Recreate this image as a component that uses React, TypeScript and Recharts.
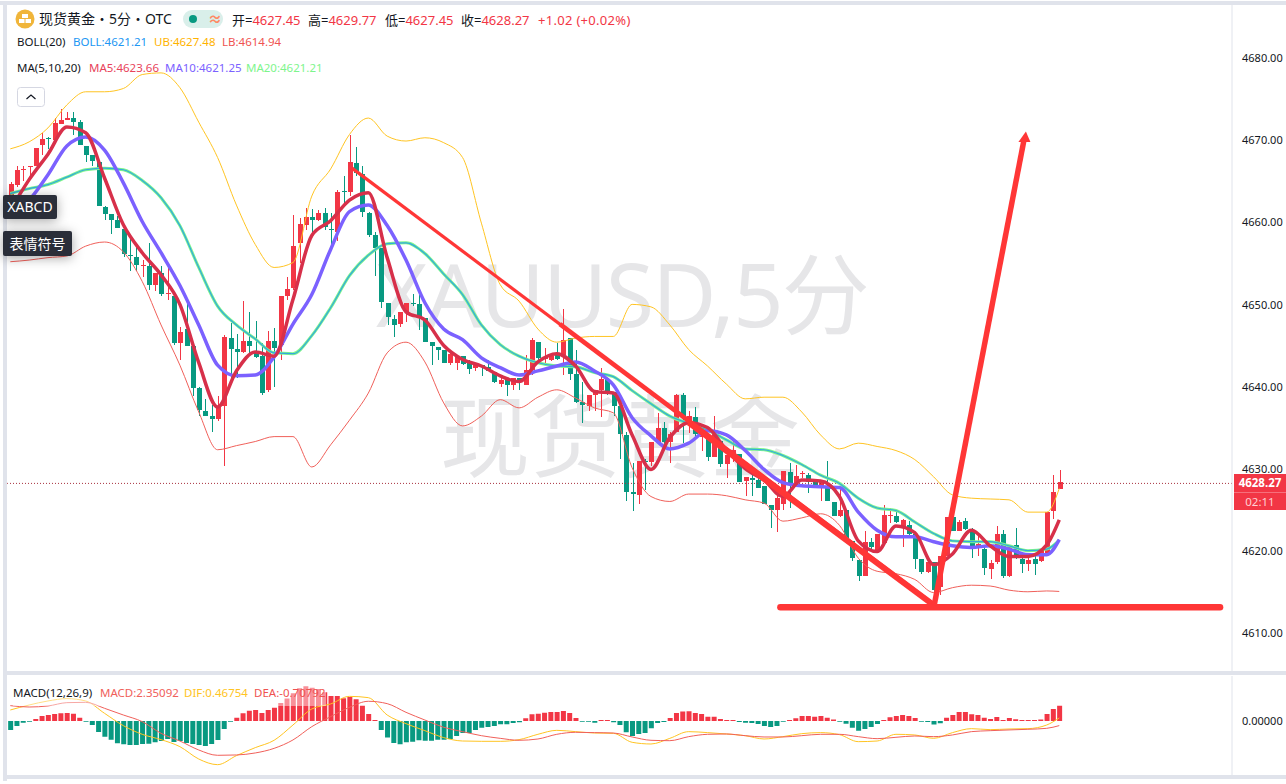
import React from 'react';
import { ComposedChart, Bar, Line, XAxis, YAxis, Cell, ReferenceLine, ReferenceDot } from 'recharts';

const FONT = '"Noto Sans", "Noto Sans CJK SC", sans-serif';
const UP = '#F23645';
const DOWN = '#089981';
const DRAW = '#FF3636';

// candles
const opens = [
  4663.05, 4664.47, 4666.33, 4666.58, 4666.78, 4669.34, 4670.19, 4669.87, 4671.90, 4672.38, 4672.63, 4672.06,
  4669.22, 4668.12, 4667.27, 4661.79, 4660.93, 4660.20, 4659.07, 4655.94, 4655.70, 4654.68, 4654.64, 4652.29,
  4653.75, 4651.27, 4650.95, 4645.26, 4646.93, 4644.86, 4639.74, 4636.94, 4636.33, 4635.97, 4637.47, 4645.83,
  4644.49, 4644.05, 4645.43, 4644.09, 4643.56, 4639.50, 4645.43, 4644.90, 4650.95, 4651.96, 4657.33, 4659.60,
  4660.53, 4660.21, 4661.02, 4659.07, 4658.71, 4663.70, 4663.54, 4667.15, 4665.81, 4661.02, 4658.38, 4656.76,
  4650.10, 4648.11, 4647.46, 4648.92, 4650.06, 4649.98, 4648.23, 4645.31, 4644.70, 4644.29, 4642.71, 4642.71,
  4643.56, 4642.75, 4642.10, 4642.55, 4642.26, 4641.61, 4640.23, 4640.72, 4640.11, 4640.92, 4640.11, 4641.86,
  4645.35, 4643.28, 4643.16, 4643.97, 4643.76, 4645.87, 4641.45, 4638.04, 4637.55, 4638.89, 4639.50, 4640.84,
  4639.29, 4637.55, 4634.02, 4627.07, 4626.71, 4630.85, 4630.65, 4633.16, 4634.87, 4633.16, 4634.42, 4638.89,
  4635.36, 4636.17, 4633.81, 4634.02, 4631.34, 4633.29, 4630.44, 4631.58, 4631.66, 4628.41, 4628.74, 4628.54,
  4627.73, 4625.49, 4624.89, 4625.62, 4629.47, 4628.13, 4629.27, 4629.15, 4628.34, 4627.73, 4627.73, 4625.86,
  4624.07, 4624.89, 4621.11, 4618.80, 4616.85, 4620.99, 4620.01, 4620.83, 4624.16, 4624.16, 4622.86, 4623.06,
  4621.88, 4618.88, 4617.25, 4618.51, 4615.43, 4619.20, 4623.99, 4622.25, 4623.55, 4622.25, 4620.42, 4620.10,
  4617.66, 4618.47, 4621.96, 4616.77, 4620.54, 4618.88, 4618.23, 4618.88, 4618.59, 4619.40, 4624.68, 4627.45,
];
const closes = [
  4664.59, 4666.29, 4666.42, 4666.78, 4668.97, 4670.07, 4669.99, 4671.98, 4672.38, 4672.59, 4672.14, 4669.26,
  4668.04, 4667.39, 4661.83, 4660.93, 4660.20, 4659.23, 4656.06, 4655.78, 4654.72, 4654.76, 4652.29, 4653.75,
  4651.19, 4651.35, 4645.26, 4646.56, 4644.86, 4639.66, 4636.98, 4636.33, 4635.97, 4637.47, 4645.91, 4644.53,
  4644.05, 4645.43, 4644.78, 4643.52, 4639.17, 4645.43, 4644.61, 4650.95, 4651.76, 4657.04, 4659.72, 4660.53,
  4660.13, 4661.02, 4659.27, 4658.91, 4663.62, 4663.54, 4667.27, 4665.89, 4661.10, 4658.38, 4656.80, 4650.14,
  4648.31, 4647.34, 4648.92, 4650.10, 4649.98, 4648.31, 4645.27, 4644.78, 4644.29, 4642.71, 4643.89, 4643.56,
  4642.59, 4641.98, 4642.59, 4642.26, 4641.78, 4640.40, 4640.72, 4640.11, 4640.92, 4640.72, 4641.94, 4645.59,
  4643.32, 4643.36, 4643.56, 4643.24, 4645.51, 4641.45, 4637.96, 4637.63, 4638.89, 4639.50, 4640.84, 4639.21,
  4637.47, 4634.14, 4627.11, 4626.75, 4630.81, 4630.73, 4633.16, 4634.87, 4633.16, 4634.14, 4638.89, 4636.25,
  4636.33, 4634.06, 4634.63, 4631.26, 4634.22, 4630.44, 4631.58, 4632.19, 4628.33, 4628.94, 4628.54, 4627.56,
  4625.62, 4624.89, 4626.31, 4629.64, 4628.13, 4629.03, 4629.35, 4628.26, 4627.85, 4628.34, 4625.98, 4624.16,
  4624.89, 4621.23, 4618.96, 4616.77, 4620.95, 4620.30, 4621.96, 4624.28, 4624.24, 4623.34, 4623.59, 4621.96,
  4618.88, 4617.25, 4618.55, 4615.06, 4619.28, 4623.99, 4622.25, 4623.38, 4622.57, 4620.34, 4620.70, 4617.74,
  4618.39, 4621.96, 4616.85, 4620.34, 4619.00, 4618.23, 4618.71, 4618.31, 4620.01, 4624.60, 4627.08, 4628.27,
];
const highs = [
  4664.87, 4666.82, 4666.70, 4666.78, 4668.97, 4670.76, 4670.35, 4672.59, 4673.68, 4673.36, 4673.36, 4672.38,
  4669.22, 4668.12, 4667.27, 4661.91, 4660.93, 4660.61, 4659.07, 4658.17, 4656.96, 4655.33, 4657.44, 4653.75,
  4654.60, 4654.93, 4651.27, 4647.21, 4649.97, 4644.86, 4639.90, 4638.40, 4637.67, 4638.77, 4646.20, 4647.62,
  4646.32, 4650.26, 4648.96, 4647.82, 4645.18, 4646.72, 4647.01, 4650.95, 4653.30, 4660.81, 4660.41, 4661.63,
  4661.51, 4661.43, 4661.63, 4661.02, 4663.78, 4665.57, 4670.56, 4669.06, 4666.79, 4661.10, 4658.67, 4656.76,
  4650.10, 4648.64, 4648.92, 4650.10, 4651.19, 4651.07, 4648.23, 4645.31, 4644.70, 4644.29, 4643.97, 4643.56,
  4643.56, 4643.07, 4642.75, 4642.55, 4643.16, 4641.61, 4641.21, 4640.72, 4640.92, 4640.92, 4643.77, 4645.79,
  4645.35, 4644.58, 4643.77, 4645.19, 4649.36, 4645.87, 4644.37, 4640.51, 4638.89, 4639.50, 4642.14, 4640.84,
  4639.29, 4637.55, 4634.42, 4630.57, 4630.81, 4631.05, 4633.16, 4636.66, 4635.60, 4634.42, 4638.97, 4639.09,
  4636.86, 4637.39, 4634.83, 4634.02, 4636.33, 4633.29, 4631.58, 4633.61, 4631.66, 4628.94, 4630.16, 4629.55,
  4627.73, 4625.49, 4627.73, 4629.64, 4630.57, 4630.37, 4629.55, 4629.35, 4628.54, 4628.54, 4630.85, 4625.86,
  4627.52, 4624.89, 4621.11, 4618.80, 4622.25, 4621.43, 4621.96, 4625.49, 4625.09, 4624.89, 4623.75, 4623.46,
  4621.88, 4618.88, 4618.55, 4618.51, 4619.28, 4623.99, 4624.20, 4623.67, 4623.87, 4622.65, 4622.04, 4620.62,
  4618.80, 4622.94, 4622.45, 4620.34, 4622.65, 4619.40, 4619.00, 4619.40, 4620.01, 4624.60, 4629.15, 4629.77,
];
const lows = [
  4662.84, 4664.26, 4664.95, 4665.68, 4666.70, 4668.12, 4668.81, 4669.74, 4671.90, 4672.38, 4670.56, 4669.26,
  4667.19, 4666.70, 4661.83, 4660.20, 4658.50, 4659.23, 4655.62, 4654.03, 4654.03, 4653.30, 4651.68, 4651.56,
  4650.95, 4650.46, 4644.98, 4643.07, 4644.86, 4638.69, 4636.33, 4636.25, 4634.42, 4635.76, 4630.16, 4640.92,
  4640.92, 4643.96, 4643.56, 4643.35, 4638.89, 4639.29, 4639.82, 4643.07, 4650.46, 4651.60, 4654.93, 4659.00,
  4658.38, 4660.00, 4658.91, 4657.16, 4657.57, 4662.03, 4663.05, 4665.49, 4660.49, 4658.10, 4653.39, 4649.45,
  4647.34, 4645.88, 4647.09, 4647.70, 4649.65, 4646.81, 4645.27, 4642.55, 4643.16, 4642.71, 4642.47, 4641.86,
  4642.51, 4641.41, 4641.82, 4641.13, 4641.78, 4640.31, 4639.79, 4638.77, 4639.50, 4639.42, 4640.11, 4641.33,
  4642.95, 4642.75, 4642.95, 4643.16, 4641.32, 4640.72, 4637.87, 4635.44, 4636.94, 4636.94, 4636.17, 4638.89,
  4636.25, 4631.13, 4625.98, 4624.68, 4625.61, 4627.24, 4630.16, 4633.16, 4632.76, 4630.57, 4634.42, 4633.00,
  4634.22, 4633.81, 4631.99, 4630.77, 4631.34, 4630.04, 4628.74, 4630.65, 4628.21, 4626.51, 4626.51, 4627.52,
  4625.62, 4622.65, 4622.13, 4624.89, 4625.09, 4627.73, 4628.74, 4626.92, 4627.52, 4625.98, 4625.90, 4624.07,
  4623.99, 4621.23, 4618.59, 4616.16, 4616.77, 4620.01, 4619.93, 4620.62, 4623.26, 4623.26, 4620.30, 4621.72,
  4617.66, 4617.09, 4617.17, 4613.52, 4614.53, 4619.20, 4622.25, 4622.25, 4622.45, 4619.00, 4619.28, 4616.89,
  4616.48, 4618.27, 4616.56, 4616.73, 4618.88, 4617.17, 4617.37, 4616.89, 4618.51, 4619.28, 4623.75, 4627.45,
];

// indicator lines are read at these candles
const lineIdx = [
  0, 3, 6, 9, 12, 15, 18, 21, 24, 27, 30, 33, 36, 39, 42, 45, 48, 51, 54, 57, 60, 63, 66, 69, 72, 75, 78, 81, 84,
  87, 90, 93, 96, 99, 102, 105, 108, 111, 114, 117, 120, 123, 126, 129, 132, 135, 138, 141, 144, 147, 150, 153,
  156, 159, 162, 165, 167,
];
const ub = [
  4668.85, 4669.7, 4671.4, 4674.2, 4675.8, 4675.8, 4676.2, 4677.9, 4678.1, 4676.3, 4672.1, 4667.8, 4662.0, 4657.2,
  4654.4, 4655.0, 4663.1, 4666.4, 4670.6, 4672.6, 4670.4, 4669.8, 4670.2, 4669.6, 4667.8, 4659.8, 4652.3, 4650.3,
  4646.9, 4645.3, 4645.8, 4646.0, 4646.0, 4649.9, 4649.6, 4647.4, 4644.4, 4642.4, 4640.2, 4638.4, 4638.6, 4638.6,
  4636.8, 4634.0, 4632.3, 4633.0, 4632.6, 4632.1, 4631.0, 4628.9, 4626.7, 4626.3, 4626.2, 4626.1, 4624.6, 4624.6,
  4627.48,
];
const lb = [
  4655.1, 4655.3, 4655.6, 4655.8, 4657.0, 4657.5, 4656.3, 4652.7, 4647.4, 4642.5, 4636.8, 4632.2, 4632.7, 4633.2,
  4633.8, 4633.8, 4630.1, 4632.8, 4635.8, 4639.1, 4644.0, 4645.3, 4642.9, 4637.9, 4635.1, 4636.3, 4638.3, 4637.3,
  4638.6, 4639.5, 4638.5, 4637.3, 4636.7, 4630.0, 4626.5, 4625.9, 4626.8, 4626.8, 4626.6, 4626.1, 4625.7, 4623.5,
  4623.9, 4624.4, 4623.0, 4619.0, 4617.4, 4617.1, 4616.4, 4614.8, 4615.4, 4615.7, 4615.6, 4615.1, 4614.9, 4615.0,
  4614.94,
];
const ma5 = [
  4661.4, 4665.1, 4668.2, 4671.5, 4670.8, 4665.3, 4659.6, 4656.2, 4653.5, 4649.9, 4642.8, 4637.4, 4641.8, 4644.1,
  4643.6, 4650.5, 4658.3, 4660.1, 4662.6, 4663.5, 4655.6, 4649.0, 4648.0, 4644.9, 4643.2, 4642.4, 4641.2, 4640.5,
  4642.9, 4643.9, 4642.4, 4639.3, 4639.1, 4634.0, 4629.8, 4633.7, 4635.5, 4634.9, 4632.2, 4629.9, 4628.5, 4626.5,
  4628.5, 4628.4, 4626.5, 4621.1, 4619.8, 4622.9, 4622.1, 4618.2, 4619.5, 4622.4, 4620.5, 4619.2, 4619.2, 4620.6,
  4623.66,
];
const ma10 = [
  4660.8, 4662.6, 4665.7, 4669.2, 4670.3, 4668.7, 4664.7, 4660.0, 4656.2, 4652.2, 4647.4, 4642.5, 4641.2, 4641.3,
  4643.5, 4647.5, 4651.1, 4656.6, 4661.2, 4662.0, 4659.5, 4655.3, 4650.1, 4646.9, 4645.6, 4643.4, 4642.2, 4641.3,
  4641.8, 4642.4, 4642.9, 4641.8, 4640.1, 4636.1, 4633.9, 4632.3, 4633.0, 4634.5, 4634.0, 4632.1, 4629.8, 4628.2,
  4627.8, 4627.7, 4627.6, 4624.6, 4622.4, 4621.6, 4621.6, 4621.0, 4620.5, 4620.3, 4620.5, 4620.1, 4619.4, 4619.4,
  4621.25,
];
const ma20 = [
  4663.4, 4664.0, 4664.5, 4665.4, 4666.3, 4666.5, 4666.3, 4665.0, 4662.9, 4659.5, 4654.4, 4649.7, 4647.4, 4645.7,
  4644.0, 4643.9, 4646.1, 4649.5, 4653.4, 4655.9, 4657.3, 4657.4, 4656.1, 4653.6, 4651.1, 4647.4, 4645.0, 4643.6,
  4642.8, 4642.4, 4642.3, 4641.6, 4641.1, 4639.4, 4637.8, 4636.3, 4635.4, 4634.6, 4633.4, 4632.3, 4632.2, 4631.5,
  4630.4, 4629.1, 4628.1, 4626.3, 4625.1, 4624.8, 4623.4, 4622.0, 4621.1, 4621.0, 4621.0, 4620.5, 4619.9, 4620.1,
  4621.21,
];

const macdHist = [
  -1.38, -0.77, -0.26, -0.1, 0.31, 0.77, 0.92, 1.08, 1.18, 1.23, 1.13, 0.51, -0.1, -0.62, -1.69, -2.41, -2.87, -3.44,
  -3.59, -3.69, -3.69, -3.54, -3.49, -3.28, -3.08, -2.77, -3.23, -3.08, -3.38, -3.54, -3.69, -3.85, -3.54, -2.92,
  -1.23, -0.1, 0.51, 1.18, 1.59, 1.69, 1.23, 1.69, 2.05, 2.77, 3.44, 4.26, 5.03, 5.33, 5.13, 4.92, 4.41, 3.85, 3.85,
  3.49, 3.69, 3.33, 2.36, 1.08, 0.15, -1.38, -2.56, -3.38, -3.59, -3.28, -3.18, -2.97, -3.03, -3.03, -2.87, -2.87,
  -2.77, -2.31, -1.85, -1.85, -1.38, -1.03, -0.92, -0.77, -0.51, -0.51, -0.31, -0.21, 0.41, 1.03, 1.13, 1.28, 1.38,
  1.38, 1.54, 1.23, 0.46, -0.1, -0.1, -0.26, 0.15, 0.15, -0.21, -0.62, -1.74, -2.31, -2.0, -1.85, -1.13, -0.31, -0.15,
  0.46, 1.23, 1.44, 1.49, 1.23, 1.08, 0.67, 0.67, 0.31, 0.15, 0.15, -0.15, -0.26, -0.31, -0.46, -0.77, -0.92, -0.77,
  -0.1, 0.15, 0.41, 0.77, 0.77, 0.67, 0.77, 0.51, 0.21, -0.1, -0.41, -1.03, -1.49, -1.23, -0.92, -0.46, 0.15, 0.56,
  0.77, 0.92, 0.77, 0.46, -0.1, -0.15, -0.56, -0.36, 0.51, 0.92, 1.38, 1.38, 1.03, 0.92, 0.51, 0.31, 0.62, 0.15, 0.46,
  0.26, 0.15, 0.15, 0.15, 0.21, 1.08, 1.85, 2.35,
];
const dif = [
  1.69, 2.46, 3.08, 3.44, 3.08, 1.18, -0.72, -2.05, -2.87, -3.95, -5.85, -6.72, -5.33, -4.1, -2.97, -0.62, 1.85, 2.62,
  3.79, 3.59, 0.92, -0.41, -1.49, -2.56, -3.08, -3.13, -3.13, -2.87, -2.05, -1.44, -1.64, -1.85, -1.9, -3.28, -3.54,
  -2.67, -1.64, -1.79, -2.0, -2.26, -2.77, -2.41, -1.95, -1.79, -2.1, -3.18, -3.08, -2.05, -2.15, -2.67, -1.79, -1.18,
  -1.33, -1.23, -1.18, -0.62, 0.47,
];
const dea = [
  2.36, 2.15, 2.31, 2.82, 2.87, 1.95, 0.92, -0.1, -1.9, -3.08, -4.46, -5.28, -5.23, -4.92, -4.21, -2.92, -0.87, 0.67,
  2.1, 3.03, 2.67, 1.33, 0.15, -0.97, -1.64, -2.26, -2.67, -2.97, -2.77, -2.05, -1.74, -1.79, -1.85, -2.46, -2.97,
  -3.03, -2.41, -2.05, -2.0, -2.26, -2.46, -2.46, -2.26, -2.05, -2.05, -2.41, -2.72, -2.51, -2.31, -2.41, -2.15, -1.64,
  -1.49, -1.38, -1.28, -1.13, -0.71,
];

const priceTicks = [4610, 4620, 4630, 4640, 4650, 4660, 4670, 4680];

// hand drawn lines on the chart, [candle, price] pairs
const trendThin = [[54.4, 4666.5], [147.2, 4613.2]];
const trendMid = [[87.5, 4647.5], [147.2, 4613.2]];
const trendHeavy = [[108, 4635.5], [146.8, 4613.4]];
const floorLine = [[122.6, 4613.0], [192.6, 4613.0]];
const arrowLine = [[147.1, 4613.3], [161.4, 4670]];
const arrowTip = [161.45, 4670.3];

const rows = opens.map((open, i) => {
  const row: any = { i, open, close: closes[i], high: highs[i], low: lows[i], macd: macdHist[i] };
  const k = lineIdx.indexOf(i);
  if (k >= 0) {
    row.ub = ub[k];
    row.lb = lb[k];
    row.ma5 = ma5[k];
    row.ma10 = ma10[k];
    row.ma20 = ma20[k];
    row.dif = dif[k];
    row.dea = dea[k];
  }
  return row;
});

const Candle = (props: any) => {
  const { x, y, width, height, payload } = props;
  const { open, close, high, low } = payload;
  const k = height / (high - low || 1);
  const cx = Math.round(x + width / 2);
  const top = y + (high - Math.max(open, close)) * k;
  const bodyH = Math.max(Math.abs(open - close) * k, 1);
  const color = close >= open ? UP : DOWN;
  return (
    <g shapeRendering="crispEdges">
      <rect x={cx} y={y} width={1} height={height} fill={color} />
      <rect x={cx - 2} y={top} width={5} height={bodyH} fill={color} />
    </g>
  );
};

const ArrowHead = ({ cx, cy }: any) => (
  <polygon points={`${cx + 1.5},${cy - 5.5} ${cx - 6},${cy + 5} ${cx + 6},${cy + 5}`} fill={DRAW} />
);

const seg = (pts: number[][]) => pts.map(([x, y]) => ({ x, y })) as any;
const fmt = (v: number) => v.toFixed(2);

const Txt = ({ x, y, c = '#131722', s = 11.5, children, style }: any) => (
  <div style={{ position: 'absolute', left: x, top: y, color: c, fontSize: s, lineHeight: '16px', whiteSpace: 'nowrap', ...style }}>
    {children}
  </div>
);

const band: React.CSSProperties = { position: 'absolute', background: '#E0E3EB' };

export default function App() {
  return (
    <div style={{ position: 'absolute', left: 0, top: 0, width: 1286, height: 784, overflow: 'hidden', background: '#fff', fontFamily: FONT }}>
      {/* watermark */}
      <div style={{ position: 'absolute', left: 376, top: 238, fontSize: 88, letterSpacing: -1.7, lineHeight: '110px', color: '#E6E6E8', whiteSpace: 'nowrap' }}>XAUUSD,5分</div>
      <div style={{ position: 'absolute', left: 440, top: 380, fontSize: 90, lineHeight: '110px', color: '#E6E6E8', whiteSpace: 'nowrap' }}>现货黄金</div>

      <div style={{ position: 'absolute', left: 0, top: 5 }}>
        <ComposedChart width={1286} height={666} data={rows} margin={{ top: 0, right: 0, bottom: 0, left: 7.16 }}>
          <XAxis dataKey="i" type="number" domain={[-0.5, 194.5]} hide allowDataOverflow />
          <YAxis
            orientation="right"
            width={54}
            domain={[4605.25, 4686.37]}
            allowDataOverflow
            ticks={priceTicks}
            tickFormatter={fmt}
            tickLine={false}
            axisLine={{ stroke: '#E0E3EB' }}
            tick={{ fill: '#131722', fontSize: 11, dx: 2, dy: 1 }}
          />
          <ReferenceLine y={4628.1} stroke="#A8323F" strokeDasharray="1 2" />
          <Bar dataKey={(d: any) => [d.low, d.high]} barSize={5} shape={<Candle />} isAnimationActive={false} />
          <Line dataKey="ub" type="monotone" stroke="#FFC423" strokeWidth={1} dot={false} connectNulls isAnimationActive={false} />
          <Line dataKey="lb" type="monotone" stroke="#F0605A" strokeWidth={1} dot={false} connectNulls isAnimationActive={false} />
          <Line dataKey="ma20" type="monotone" stroke="#7EF58C" strokeWidth={3} dot={false} connectNulls isAnimationActive={false} />
          <Line dataKey="ma20" type="monotone" stroke="#2196F3" strokeWidth={1.2} strokeOpacity={0.8} dot={false} connectNulls isAnimationActive={false} />
          <Line dataKey="ma10" type="monotone" stroke="#7B61FF" strokeWidth={3.5} dot={false} connectNulls isAnimationActive={false} />
          <Line dataKey="ma5" type="monotone" stroke="#D7304A" strokeWidth={3.5} dot={false} connectNulls isAnimationActive={false} />
          <ReferenceLine segment={seg(trendThin)} stroke={DRAW} strokeWidth={3.2} />
          <ReferenceLine segment={seg(trendMid)} stroke={DRAW} strokeWidth={4.6} />
          <ReferenceLine segment={seg(trendHeavy)} stroke={DRAW} strokeWidth={6} />
          <ReferenceLine segment={seg(floorLine)} stroke={DRAW} strokeWidth={6.5} strokeLinecap="round" />
          <ReferenceLine segment={seg(arrowLine)} stroke={DRAW} strokeWidth={5.5} />
          <ReferenceDot x={arrowTip[0]} y={arrowTip[1]} shape={<ArrowHead />} />
        </ComposedChart>
      </div>

      <div style={{ position: 'absolute', left: 0, top: 676 }}>
        <ComposedChart width={1286} height={99} data={rows} margin={{ top: 0, right: 0, bottom: 0, left: 7.16 }}>
          <XAxis dataKey="i" type="number" domain={[-0.5, 194.5]} hide allowDataOverflow />
          <YAxis
            orientation="right"
            width={54}
            domain={[-8.31, 6.92]}
            allowDataOverflow
            ticks={[0]}
            tickFormatter={(v: number) => v.toFixed(5)}
            tickLine={false}
            axisLine={{ stroke: '#E0E3EB' }}
            tick={{ fill: '#131722', fontSize: 11, dx: 2 }}
          />
          <Bar dataKey="macd" barSize={5} isAnimationActive={false}>
            {rows.map((r) => (
              <Cell key={r.i} fill={r.macd >= 0 ? UP : DOWN} />
            ))}
          </Bar>
          <Line dataKey="dif" type="monotone" stroke="#FFC423" strokeWidth={1} dot={false} connectNulls isAnimationActive={false} />
          <Line dataKey="dea" type="monotone" stroke="#F0605A" strokeWidth={1} dot={false} connectNulls isAnimationActive={false} />
        </ComposedChart>
      </div>

      {/* pane separators */}
      <div style={{ ...band, left: 0, top: 1, width: 1286, height: 4 }} />
      <div style={{ ...band, left: 3, top: 1, width: 4, height: 780 }} />
      <div style={{ ...band, left: 3, top: 671, width: 1283, height: 4 }} />
      <div style={{ ...band, left: 3, top: 775, width: 1283, height: 4 }} />

      {/* header */}
      <svg style={{ position: 'absolute', left: 15, top: 9 }} width={20} height={20}>
        <circle cx={10} cy={10} r={9.5} fill="#F0B53A" />
        <rect x={7} y={5} width={6} height={4} fill="#fff" />
        <rect x={4} y={10} width={5.5} height={4} fill="#fff" />
        <rect x={10.5} y={10} width={5.5} height={4} fill="#fff" />
      </svg>
      <Txt x={39} y={11} s={14}>现货黄金・5分・OTC</Txt>
      <div style={{ position: 'absolute', left: 183, top: 10, width: 40, height: 18, borderRadius: 9, background: '#D9EFEA' }} />
      <div style={{ position: 'absolute', left: 189, top: 15, width: 8, height: 8, borderRadius: 4, background: '#089981' }} />
      <Txt x={208} y={11} c="#FF8A65" s={14} style={{ fontWeight: 700 }}>≈</Txt>
      <Txt x={232} y={12} s={13}>开=<span style={{ color: UP }}>4627.45</span></Txt>
      <Txt x={308} y={12} s={13}>高=<span style={{ color: UP }}>4629.77</span></Txt>
      <Txt x={385} y={12} s={13}>低=<span style={{ color: UP }}>4627.45</span></Txt>
      <Txt x={461} y={12} s={13}>收=<span style={{ color: UP }}>4628.27</span></Txt>
      <Txt x={538} y={12} s={13} c={UP} style={{ letterSpacing: 0.3 }}>+1.02 (+0.02%)</Txt>
      <Txt x={17} y={34}>BOLL(20)</Txt>
      <Txt x={73} y={34} c="#2196F3">BOLL:4621.21</Txt>
      <Txt x={154} y={34} c="#FFB300">UB:4627.48</Txt>
      <Txt x={222} y={34} c="#EF5350">LB:4614.94</Txt>
      <Txt x={17} y={60}>MA(5,10,20)</Txt>
      <Txt x={89} y={60} c="#E8435A">MA5:4623.66</Txt>
      <Txt x={165} y={60} c="#7B61FF">MA10:4621.25</Txt>
      <Txt x={246} y={60} c="#7EF58C">MA20:4621.21</Txt>
      <svg style={{ position: 'absolute', left: 17, top: 87 }} width={28} height={20}>
        <rect x={0.5} y={0.5} width={27} height={19} rx={3} fill="#fff" stroke="#D5D7E2" />
        <path d="M9.5 12 L14 8 L18.5 12" fill="none" stroke="#131722" strokeWidth={1.2} />
      </svg>

      {/* tooltips left over from the toolbar */}
      <div style={{ position: 'absolute', left: 3, top: 195, width: 54, height: 24, borderRadius: 2, background: '#2A2E39', color: '#fff', fontSize: 14, lineHeight: '24px', textAlign: 'center', boxShadow: '0 2px 12px rgba(0,0,0,.35)' }}>XABCD</div>
      <div style={{ position: 'absolute', left: 3, top: 231, width: 69, height: 25, borderRadius: 2, background: '#2A2E39', color: '#fff', fontSize: 14, lineHeight: '25px', textAlign: 'center', boxShadow: '0 2px 12px rgba(0,0,0,.35)' }}>表情符号</div>

      {/* last price tag */}
      <div style={{ position: 'absolute', left: 1234, top: 474, width: 52, height: 18, background: UP, color: '#fff', fontSize: 11.5, fontWeight: 700, lineHeight: '18px', textAlign: 'center' }}>4628.27</div>
      <div style={{ position: 'absolute', left: 1234, top: 492, width: 52, height: 18, background: UP, color: '#FFD0D4', fontSize: 11.5, lineHeight: '18px', textAlign: 'center', borderTop: '1px solid #F6707C', boxSizing: 'border-box' }}>02:11</div>

      {/* macd legend */}
      <div style={{ position: 'absolute', left: 13, top: 685, width: 313, height: 21, background: 'rgba(255,255,255,.45)' }} />
      <Txt x={13} y={685}>MACD(12,26,9)</Txt>
      <Txt x={100} y={685} c="#F0605A">MACD:2.35092</Txt>
      <Txt x={184} y={685} c="#FFC423">DIF:0.46754</Txt>
      <Txt x={254} y={685} c="#EF5350">DEA:-0.70792</Txt>
    </div>
  );
}
